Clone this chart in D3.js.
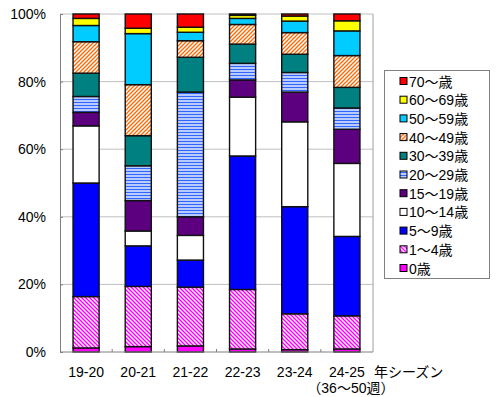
<!DOCTYPE html>
<html>
<head>
<meta charset="utf-8">
<script src="https://cdn.jsdelivr.net/npm/d3@7"></script>
<style>
  body { margin: 0; background: #fff; }
  text { font-family: "Liberation Sans", Arial, "Noto Sans CJK JP", sans-serif; }
</style>
</head>
<body>
<svg id="chart"></svg>
<script>
// seasons on the x axis
const seasons = ["19-20", "20-21", "21-22", "22-23", "23-24", "24-25"];
// age groups, bottom to top
const ageGroups = ["0歳", "1～4歳", "5～9歳", "10～14歳", "15～19歳", "20～29歳",
                   "30～39歳", "40～49歳", "50～59歳", "60～69歳", "70～歳"];
// share (%) per season, same order as ageGroups
const share1920 = [1.2, 15.2, 33.6, 16.9, 4.0, 4.7, 6.9, 9.3, 4.8, 2.1, 1.3];
const share2021 = [1.6, 17.8, 12.0, 4.4, 9.0, 10.3, 8.9, 15.1, 15.1, 1.6, 4.2];
const share2122 = [1.8, 17.4, 8.0, 7.3, 5.5, 36.9, 10.3, 4.9, 2.5, 1.5, 3.9];
const share2223 = [0.9, 17.6, 39.5, 17.4, 5.1, 4.9, 5.7, 5.8, 1.8, 0.9, 0.4];
const share2324 = [0.7, 10.6, 31.7, 25.1, 8.8, 5.8, 5.4, 6.4, 3.4, 1.5, 0.6];
const share2425 = [0.9, 9.8, 23.5, 21.6, 10.1, 6.3, 6.1, 9.4, 7.3, 3.0, 2.0];
const yTicks = [0, 20, 40, 60, 80, 100];

const allShares = [share1920, share2021, share2122, share2223, share2324, share2425];

const width = 500, height = 397;
const margin = {left: 60, right: 127, top: 14, bottom: 45};

const svg = d3.select("#chart").attr("width", width).attr("height", height);
const defs = svg.append("defs");

// hatch patterns
const p40 = defs.append("pattern").attr("id", "hatch40")
  .attr("patternUnits", "userSpaceOnUse").attr("width", 4).attr("height", 4);
p40.append("rect").attr("width", 4).attr("height", 4).attr("fill", "#fff");
p40.append("path").attr("d", "M-1,1 L1,-1 M0,4 L4,0 M3,5 L5,3")
  .attr("stroke", "#ff6600").attr("stroke-width", 1.3);

const p14 = defs.append("pattern").attr("id", "hatch14")
  .attr("patternUnits", "userSpaceOnUse").attr("width", 4).attr("height", 4);
p14.append("rect").attr("width", 4).attr("height", 4).attr("fill", "#fff");
p14.append("path").attr("d", "M-1,3 L1,5 M0,0 L4,4 M3,-1 L5,1")
  .attr("stroke", "#ff00ff").attr("stroke-width", 1.5);

const p20 = defs.append("pattern").attr("id", "stripe20")
  .attr("patternUnits", "userSpaceOnUse").attr("width", 4).attr("height", 3);
p20.append("rect").attr("width", 4).attr("height", 3).attr("fill", "#b8ccff");
p20.append("rect").attr("width", 4).attr("height", 1).attr("fill", "#3366ff");

const fills = ["#ff00ff", "url(#hatch14)", "#0000ff", "#ffffff", "#5c0080", "url(#stripe20)",
               "#008080", "url(#hatch40)", "#00ccff", "#ffff00", "#ff0000"];

const table = seasons.map((s, i) => {
  const row = {season: s};
  ageGroups.forEach((g, j) => row[g] = allShares[i][j]);
  return row;
});

const x = d3.scaleBand().domain(seasons)
  .range([margin.left, width - margin.right]).paddingInner(0.5).paddingOuter(0.25);
const y = d3.scaleLinear().domain([0, 100]).range([height - margin.bottom, margin.top]);

// gridlines
svg.append("g").selectAll("line").data(yTicks.slice(1)).join("line")
  .attr("x1", margin.left).attr("x2", width - margin.right)
  .attr("y1", d => y(d)).attr("y2", d => y(d))
  .attr("stroke", "#c0c0c0").attr("stroke-width", 1);

// plot border (right side)
svg.append("line")
  .attr("x1", width - margin.right).attr("x2", width - margin.right)
  .attr("y1", y(100)).attr("y2", y(0)).attr("stroke", "#a0a0a0");

const stack = d3.stack().keys(ageGroups)(table);

svg.append("g").selectAll("g").data(stack).join("g")
  .attr("fill", (d, i) => fills[i])
  .selectAll("rect").data(d => d).join("rect")
  .attr("x", d => x(d.data.season))
  .attr("width", x.bandwidth())
  .attr("y", d => y(d[1]))
  .attr("height", d => y(d[0]) - y(d[1]))
  .attr("stroke", "#111").attr("stroke-width", 1.4);

// y axis
const yAxis = svg.append("g").attr("transform", `translate(${margin.left},0)`)
  .call(d3.axisLeft(y).tickValues(yTicks).tickFormat(d => d + "%").tickSize(-3).tickPadding(14));
yAxis.select(".domain").attr("stroke", "#808080");
yAxis.selectAll(".tick line").attr("stroke", "#808080");
yAxis.selectAll("text").attr("font-size", 14).attr("fill", "#000");

// x axis with ticks between categories
const xAxisG = svg.append("g").attr("transform", `translate(0,${y(0)})`);
xAxisG.append("line").attr("x1", margin.left).attr("x2", width - margin.right)
  .attr("stroke", "#808080");
const step = x.step();
const bounds = seasons.slice(1).map(s => x(s) - step * 0.25);
xAxisG.selectAll(".tk").data(bounds).join("line").attr("class", "tk")
  .attr("x1", d => d).attr("x2", d => d).attr("y1", 0).attr("y2", -3)
  .attr("stroke", "#808080");
xAxisG.selectAll(".lbl").data(seasons).join("text").attr("class", "lbl")
  .attr("x", d => x(d) + x.bandwidth() / 2).attr("y", 25)
  .attr("text-anchor", "middle").attr("font-size", 14).text(d => d);
xAxisG.append("text").attr("x", x("24-25") + x.bandwidth() + 14).attr("y", 25)
  .attr("font-size", 14).text("年シーズン");
xAxisG.append("text").attr("x", x("24-25") + x.bandwidth() / 2 + 4).attr("y", 41)
  .attr("text-anchor", "middle").attr("font-size", 14).text("（36～50週）");

// legend
const lg = svg.append("g");
lg.append("rect").attr("x", 384.5).attr("y", 70.5).attr("width", 105).attr("height", 208)
  .attr("fill", "#fff").attr("stroke", "#808080");
const legendOrder = ageGroups.map((g, i) => ({g, i})).reverse();
const item = lg.selectAll(".item").data(legendOrder).join("g").attr("class", "item")
  .attr("transform", (d, k) => `translate(400,${81.5 + k * 18.7})`);
item.append("rect").attr("x", 0).attr("y", -4).attr("width", 7).attr("height", 7)
  .attr("fill", d => fills[d.i]).attr("stroke", "#000").attr("stroke-width", 1);
item.append("text").attr("x", 9).attr("y", 5).attr("font-size", 14).text(d => d.g);
</script>
</body>
</html>
